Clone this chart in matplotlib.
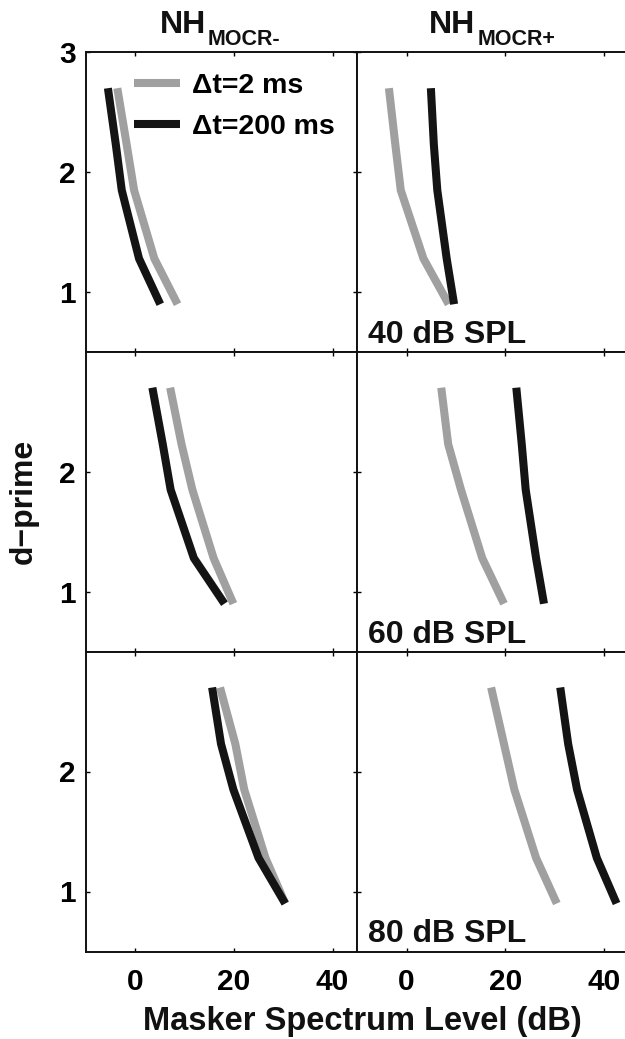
import matplotlib
matplotlib.use('Agg')
import matplotlib.pyplot as plt

plt.rcParams['font.family'] = ['Liberation Sans', 'DejaVu Sans']
plt.rcParams['font.weight'] = 'bold'

# ---------------- data ----------------
dprime = [2.70, 2.23, 1.85, 1.28, 0.90]
levels = ['40 dB SPL', '60 dB SPL', '80 dB SPL']
conditions = ['MOCR-', 'MOCR+']
series_labels = ['\u0394t=2 ms', '\u0394t=200 ms']

# masker spectrum level (dB) per d' value, [level][condition]
short_2ms = [
    [[-3.6, -1.7, -0.2, 3.9, 8.6], [-3.6, -2.3, -1.2, 3.4, 8.5]],
    [[7.1, 9.4, 11.6, 15.9, 19.9], [7.0, 8.4, 11.0, 15.3, 19.7]],
    [[17.2, 20.3, 22.1, 26.4, 30.4], [17.1, 19.7, 21.8, 26.2, 30.4]],
]
long_200ms = [
    [[-5.5, -3.9, -2.7, 0.8, 5.1], [4.9, 5.5, 6.2, 8.1, 9.6]],
    [[3.5, 5.6, 7.2, 11.9, 18.1], [22.2, 23.3, 24.1, 26.2, 27.8]],
    [[15.6, 17.4, 19.9, 25.0, 30.4], [31.1, 32.7, 34.5, 38.5, 42.5]],
]
xticks = [0, 20, 40]

# ---------------- layout ----------------
W, H = 625, 1039
fig = plt.figure(figsize=(W / 100, H / 100), dpi=100)

def px_axes(l, t, w, h):
    return fig.add_axes([l / W, 1 - (t + h) / H, w / W, h / H])

lefts = [85.7, 357.3]
tops = [52.2, 351.7, 651.5]
pw, ph = 271.6, 300.0

gray = '#a0a0a0'
black = '#141414'
lw = 5.8

for r in range(3):
    for c in range(2):
        ax = px_axes(lefts[c], tops[r], pw, ph)
        ax.plot(short_2ms[r][c], dprime, color=gray, lw=lw,
                solid_capstyle='butt', solid_joinstyle='miter',
                label=series_labels[0])
        ax.plot(long_200ms[r][c], dprime, color=black, lw=lw,
                solid_capstyle='butt', solid_joinstyle='miter',
                label=series_labels[1])
        ax.set_xlim(-10, 45)
        ax.set_ylim(0.5, 3.0)
        ax.set_xticks(xticks)
        if r == 0:
            ax.set_yticks([1, 2, 3])
        else:
            ax.set_yticks([1, 2])
        ax.tick_params(direction='in', length=3, width=1, top=True, right=True,
                       labelsize=21.5)
        ax.tick_params(axis='x', pad=12)
        ax.tick_params(axis='y', pad=7)
        if r < 2:
            ax.tick_params(labelbottom=False)
        if c == 1:
            ax.tick_params(labelleft=False)
        for s in ax.spines.values():
            s.set_linewidth(1.4)
            s.set_color('#111111')
        if c == 1:
            ax.text(0.04, 0.03, levels[r], transform=ax.transAxes,
                    fontsize=23, fontweight='bold', ha='left', va='baseline',
                    color='#111111')
        if r == 0 and c == 0:
            ax.legend(loc='upper left', bbox_to_anchor=(0.178, 0.932),
                      frameon=False, fontsize=20.5, handlelength=1.6,
                      handletextpad=0.45, labelspacing=0.55,
                      borderaxespad=0, borderpad=0)

# column titles with subscripts
title_x = [206, 475.5]
for x0, cond in zip(title_x, conditions):
    fig.text(x0 / W, 1 - 33.3 / H, 'NH', fontsize=23, fontweight='bold',
             ha='right', va='baseline', color='#111111')
    fig.text((x0 + 2) / W, 1 - 45 / H, cond, fontsize=15.5, fontweight='bold',
             ha='left', va='baseline', color='#111111')

fig.text(362 / W, 1 - 1030 / H, 'Masker Spectrum Level (dB)', fontsize=23.5,
         fontweight='bold', ha='center', va='baseline', color='#111111')
fig.text(24 / W, 1 - 501.5 / H, 'd\u2212prime', fontsize=23, fontweight='bold',
         rotation=90, ha='center', va='center', color='#111111')

fig.savefig('out.png', dpi=100)
